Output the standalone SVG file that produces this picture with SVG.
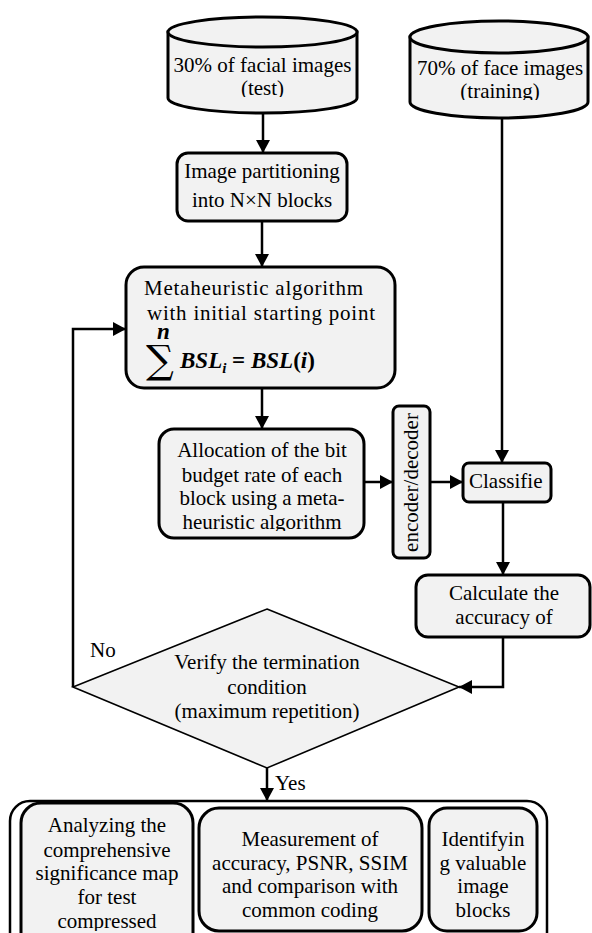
<svg xmlns="http://www.w3.org/2000/svg" width="592" height="933" viewBox="0 0 592 933">
<style>
.t{font-family:"Liberation Serif","Times New Roman",serif;font-size:21px;fill:#000}
.c{text-anchor:middle}
.box{fill:#f2f2f2;stroke:#000;stroke-width:3}
.thin{fill:#f2f2f2;stroke:#000;stroke-width:1.6}
.ln{fill:none;stroke:#000;stroke-width:2.5}
.m{font-family:"Liberation Serif","Times New Roman",serif;font-weight:bold;font-style:italic;font-size:23px}
</style>
<defs>
<marker id="ah" viewBox="0 0 13 14" refX="13" refY="7" markerWidth="13" markerHeight="14" markerUnits="userSpaceOnUse" orient="auto">
<path d="M0,0 L13,7 L0,14 Z" fill="#000"/>
</marker>
<clipPath id="cc1"><rect x="160" y="40" width="210" height="57"/></clipPath>
<clipPath id="cc2"><rect x="400" y="45" width="195" height="55"/></clipPath>
<clipPath id="cb4"><rect x="160" y="430" width="203" height="101"/></clipPath>
<clipPath id="cbA"><rect x="22" y="805" width="170" height="126"/></clipPath>
</defs>

<g id="cyl1">
<path class="box" stroke-width="2.5" d="M168,32 V98 A94.5,15 0 0 0 357,98 V32 Z"/>
<ellipse class="box" stroke-width="2.5" cx="262.5" cy="32" rx="94.5" ry="15"/>
<g clip-path="url(#cc1)">
<text class="t c" x="262.5" y="72">30% of facial images</text>
<text class="t c" x="262.5" y="95">(test)</text>
</g>
</g>

<g id="cyl2">
<path class="box" stroke-width="2.5" d="M410,37 V102 A89,16 0 0 0 588,102 V37 Z"/>
<ellipse class="box" stroke-width="2.5" cx="499" cy="37" rx="89" ry="16"/>
<g clip-path="url(#cc2)">
<text class="t c" x="500" y="75">70% of face images</text>
<text class="t c" x="500" y="98">(training)</text>
</g>
</g>

<g id="partition">
<rect class="box" x="177" y="153" width="170" height="68" rx="11"/>
<text class="t c" x="262" y="178">Image partitioning</text>
<text class="t c" x="262" y="207">into N×N blocks</text>
</g>

<g id="meta">
<rect class="box" x="126" y="267" width="269" height="121" rx="18"/>
<text class="t" x="144" y="295" textLength="219">Metaheuristic algorithm</text>
<text class="t" x="147" y="320" textLength="228">with initial starting point</text>
<text x="146" y="373" font-family="DejaVu Serif, serif" font-size="39">∑</text>
<text class="m" x="157" y="339" font-size="13">n</text>
<text class="m" x="180" y="368">BSL<tspan font-size="15" dy="5">i</tspan><tspan dy="-5" font-style="normal"> = </tspan>BSL<tspan font-style="normal">(</tspan>i<tspan font-style="normal">)</tspan></text>
</g>

<g id="alloc">
<rect class="box" x="159" y="429" width="205" height="109" rx="15"/>
<g clip-path="url(#cb4)">
<text class="t c" x="262" y="457">Allocation of the bit</text>
<text class="t c" x="262" y="482">budget rate of each</text>
<text class="t c" x="262" y="505">block using a meta-</text>
<text class="t c" x="262" y="529">heuristic algorithm</text>
</g>
</g>

<g id="codec">
<rect class="box" x="393" y="406" width="37" height="152" rx="6"/>
<text class="t c" transform="translate(418,482.5) rotate(-90)">encoder/decoder</text>
</g>

<g id="classifier">
<rect class="box" x="463" y="463" width="88" height="39" rx="6"/>
<text class="t" x="469" y="488">Classifie</text>
</g>

<g id="accuracy">
<rect class="box" x="416" y="575" width="174" height="62" rx="12"/>
<text class="t c" x="504" y="600">Calculate the</text>
<text class="t c" x="504" y="624">accuracy of</text>
</g>

<g id="decision">
<polygon class="thin" points="267,609 459,687 267,768 73,687"/>
<text class="t c" x="267" y="669">Verify the termination</text>
<text class="t c" x="267" y="694">condition</text>
<text class="t c" x="267" y="718">(maximum repetition)</text>
</g>

<g id="results">
<rect fill="#fff" stroke="#000" stroke-width="2.5" x="10" y="801" width="537" height="160" rx="20"/>
<g id="analyze">
<rect class="box" x="21" y="803" width="172" height="150" rx="20"/>
<g clip-path="url(#cbA)">
<text class="t c" x="107" y="832">Analyzing the</text>
<text class="t c" x="107" y="857">comprehensive</text>
<text class="t c" x="107" y="880">significance map</text>
<text class="t c" x="107" y="904">for test</text>
<text class="t c" x="107" y="928">compressed</text>
</g>
</g>
<g id="measure">
<rect class="box" x="199" y="808" width="223" height="123" rx="20"/>
<text class="t c" x="310" y="846">Measurement of</text>
<text class="t c" x="310" y="870">accuracy, PSNR, SSIM</text>
<text class="t c" x="310" y="893">and comparison with</text>
<text class="t c" x="310" y="917">common coding</text>
</g>
<g id="identify">
<rect class="box" x="429" y="808" width="108" height="123" rx="18"/>
<text class="t c" x="483" y="846">Identifyin</text>
<text class="t c" x="483" y="870">g valuable</text>
<text class="t c" x="483" y="893">image</text>
<text class="t c" x="483" y="917">blocks</text>
</g>
</g>

<g id="connectors">
<line class="ln" x1="263" y1="113" x2="263" y2="153" marker-end="url(#ah)"/>
<line class="ln" x1="262" y1="221" x2="262" y2="267" marker-end="url(#ah)"/>
<line class="ln" x1="262" y1="388" x2="262" y2="429" marker-end="url(#ah)"/>
<line class="ln" x1="364" y1="482" x2="393" y2="482" marker-end="url(#ah)"/>
<line class="ln" x1="430" y1="482" x2="463" y2="482" marker-end="url(#ah)"/>
<line class="ln" x1="502" y1="118" x2="502" y2="463" marker-end="url(#ah)"/>
<line class="ln" x1="503" y1="502" x2="503" y2="575" marker-end="url(#ah)"/>
<polyline class="ln" points="503,637 503,687 459,687" marker-end="url(#ah)"/>
<polyline class="ln" points="73,687 73,329 126,329" marker-end="url(#ah)"/>
<line class="ln" x1="267" y1="768" x2="267" y2="801" marker-end="url(#ah)"/>
<text class="t" x="90" y="657">No</text>
<text class="t" x="275" y="790">Yes</text>
</g>
</svg>
